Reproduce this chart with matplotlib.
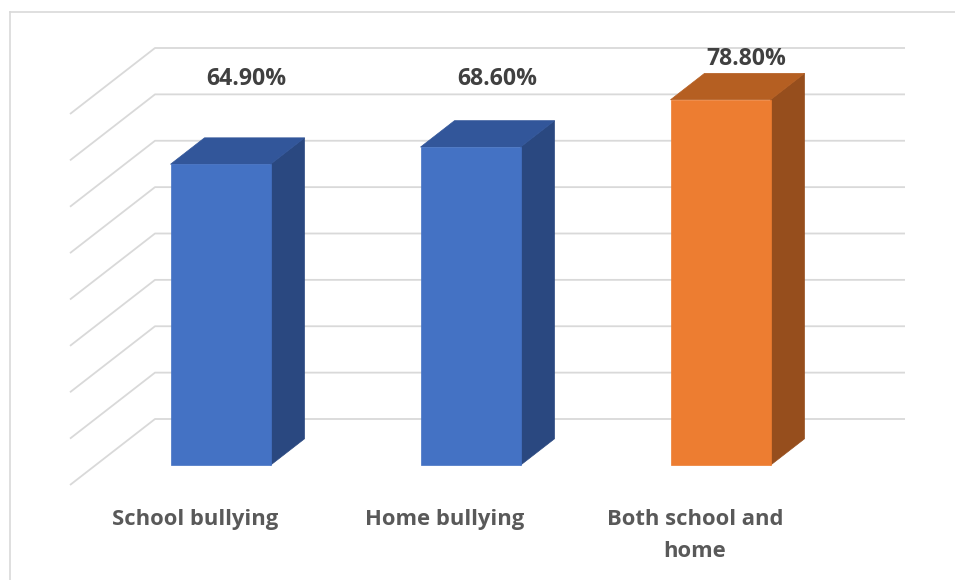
import matplotlib
matplotlib.use("Agg")
import matplotlib.pyplot as plt
from matplotlib.patches import Polygon
from matplotlib.lines import Line2D

# ---- data ----
categories = ["School bullying", "Home bullying", "Both school and\nhome"]
values = [64.9, 68.6, 78.8]
value_labels = ["64.90%", "68.60%", "78.80%"]
grid_values = list(range(0, 90, 10))

# ---- styling ----
front_colors = ["#4472C4", "#4472C4", "#ED7D31"]
top_colors = ["#32569A", "#32569A", "#B55F22"]
side_colors = ["#2A4880", "#2A4880", "#964E1D"]
grid_color = "#D9D9D9"
font = "Open Sans"

W, H, DPI = 955, 580, 100
fig = plt.figure(figsize=(W / DPI, H / DPI), dpi=DPI)
fig.patch.set_facecolor("white")

# chart frame (left and top edges)
fig.add_artist(Line2D([10 / W, 10 / W], [0, 1 - 12 / H], transform=fig.transFigure,
                      color=grid_color, lw=1.2))
fig.add_artist(Line2D([10 / W, 1], [1 - 12 / H, 1 - 12 / H], transform=fig.transFigure,
                      color=grid_color, lw=1.2))

# back wall of the 3-D plot area
ax = fig.add_axes([155 / W, (H - 419) / H, 750 / W, 371 / H])
ax.set_xlim(-0.5, 2.5)
ax.set_ylim(0, 80)
ax.axis("off")

# oblique depth direction: full depth moves 85 px left and 66 px down
p0, p1 = ax.transData.transform([[0, 0], [1, 10]])
px_per_x = p1[0] - p0[0]
px_per_y = (p1[1] - p0[1]) / 10
DX = -85 / px_per_x
DY = -66 / px_per_y


def proj(x, y, d):
    return (x + d * DX, y + d * DY)


# gridlines: back wall plus the diagonal along the side wall
for g in grid_values:
    xs, ys = zip(proj(-0.5, g, 1), proj(-0.5, g, 0), proj(2.5, g, 0))
    ax.plot(xs, ys, color=grid_color, lw=1.3, clip_on=False, zorder=1,
            solid_capstyle="butt")

# bars
half = 0.2
d_back, d_front = 0.3, 0.7
for i, v in enumerate(values):
    xl, xr = i - half, i + half
    front = [proj(xl, 0, d_front), proj(xr, 0, d_front),
             proj(xr, v, d_front), proj(xl, v, d_front)]
    top = [proj(xl, v, d_front), proj(xr, v, d_front),
           proj(xr, v, d_back), proj(xl, v, d_back)]
    side = [proj(xr, 0, d_front), proj(xr, 0, d_back),
            proj(xr, v, d_back), proj(xr, v, d_front)]
    for poly, col in ((side, side_colors[i]), (top, top_colors[i]), (front, front_colors[i])):
        ax.add_patch(Polygon(poly, closed=True, facecolor=col, edgecolor=col,
                             lw=0.5, clip_on=False, zorder=3))

# value labels above the bars
label_heights = [72.0, 72.0, 76.3]
for i, (v, txt) in enumerate(zip(values, value_labels)):
    ax.text(i - 0.133, label_heights[i], txt, ha="center", va="baseline",
            fontsize=16.6, fontweight="bold", color="#404040", family=font,
            clip_on=False, zorder=5)

# category labels along the front edge of the floor, one text per line
for i, cat in enumerate(categories):
    x, y = proj(i, 0, 1)
    for k, line in enumerate(cat.split("\n")):
        ax.text(x, y - (40 + 32 * k) / px_per_y, line, ha="center", va="baseline",
                fontsize=15.8, fontweight="bold", color="#595959", family=font,
                clip_on=False, zorder=5)

fig.savefig("out.png", dpi=DPI)
